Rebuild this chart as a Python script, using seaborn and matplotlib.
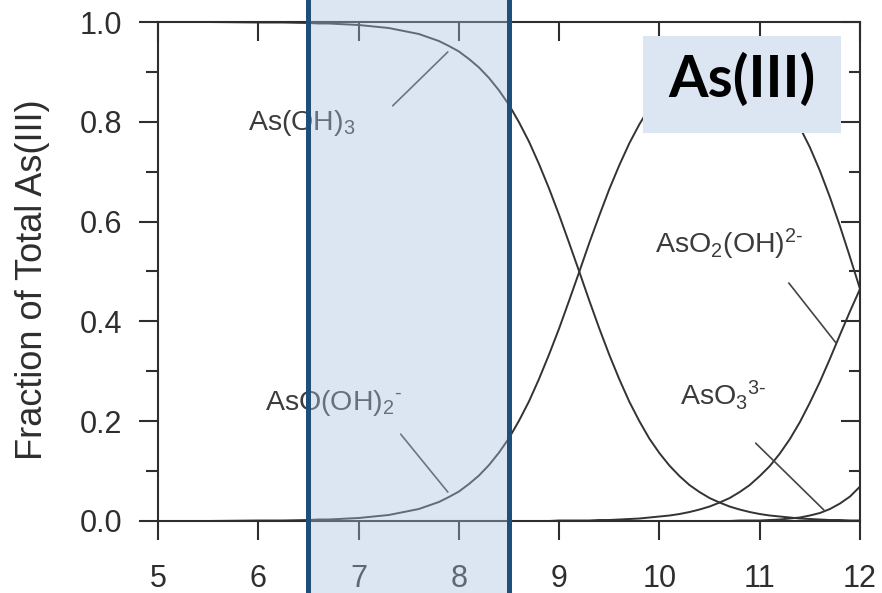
import matplotlib
matplotlib.use("Agg")
import matplotlib.pyplot as plt
import matplotlib.transforms as mtransforms
from matplotlib.patches import Rectangle
from matplotlib.lines import Line2D
from matplotlib.ticker import MultipleLocator
import seaborn as sns

# pH grid and species fractions of total As(III)
ph = [5.0, 5.5, 6.0, 6.25, 6.5, 6.6, 6.7, 6.8, 6.9, 7.0, 7.1, 7.2, 7.3, 7.4, 7.5,
      7.6, 7.7, 7.8, 7.9, 8.0, 8.1, 8.2, 8.3, 8.4, 8.5, 8.6, 8.7, 8.8, 8.9, 9.0,
      9.1, 9.2, 9.3, 9.4, 9.5, 9.6, 9.7, 9.8, 9.9, 10.0, 10.1, 10.2, 10.3, 10.4,
      10.5, 10.6, 10.7, 10.8, 10.9, 11.0, 11.1, 11.2, 11.3, 11.4, 11.5, 11.6,
      11.7, 11.8, 11.9, 12.0]
as_oh3 = [1.000, 1.000, 0.999, 0.999, 0.998, 0.997, 0.997, 0.996, 0.995, 0.994,
          0.992, 0.990, 0.988, 0.984, 0.980, 0.976, 0.969, 0.962, 0.952, 0.941,
          0.926, 0.909, 0.888, 0.863, 0.834, 0.799, 0.760, 0.715, 0.666, 0.613,
          0.557, 0.500, 0.442, 0.386, 0.333, 0.284, 0.239, 0.200, 0.165, 0.136,
          0.111, 0.090, 0.072, 0.058, 0.046, 0.037, 0.029, 0.023, 0.018, 0.014,
          0.011, 0.009, 0.007, 0.005, 0.004, 0.003, 0.002, 0.002, 0.001, 0.001]
aso_oh2 = [0.000, 0.000, 0.001, 0.001, 0.002, 0.003, 0.003, 0.004, 0.005, 0.006,
           0.008, 0.010, 0.012, 0.016, 0.020, 0.024, 0.031, 0.038, 0.048, 0.059,
           0.074, 0.091, 0.112, 0.137, 0.166, 0.201, 0.240, 0.285, 0.334, 0.386,
           0.442, 0.499, 0.557, 0.612, 0.665, 0.713, 0.757, 0.795, 0.828, 0.856,
           0.878, 0.896, 0.910, 0.919, 0.924, 0.926, 0.924, 0.918, 0.909, 0.895,
           0.877, 0.853, 0.824, 0.789, 0.749, 0.702, 0.649, 0.591, 0.529, 0.465]
aso2_oh = [0.000, 0.000, 0.000, 0.000, 0.000, 0.000, 0.000, 0.000, 0.000, 0.000,
           0.000, 0.000, 0.000, 0.000, 0.000, 0.000, 0.000, 0.000, 0.000, 0.000,
           0.000, 0.000, 0.000, 0.000, 0.000, 0.000, 0.000, 0.000, 0.000, 0.001,
           0.001, 0.001, 0.001, 0.002, 0.002, 0.003, 0.004, 0.005, 0.007, 0.009,
           0.011, 0.014, 0.018, 0.023, 0.029, 0.037, 0.046, 0.058, 0.072, 0.090,
           0.110, 0.135, 0.164, 0.198, 0.237, 0.279, 0.325, 0.373, 0.420, 0.465]
aso3 = [0.000, 0.000, 0.000, 0.000, 0.000, 0.000, 0.000, 0.000, 0.000, 0.000,
        0.000, 0.000, 0.000, 0.000, 0.000, 0.000, 0.000, 0.000, 0.000, 0.000,
        0.000, 0.000, 0.000, 0.000, 0.000, 0.000, 0.000, 0.000, 0.000, 0.000,
        0.000, 0.000, 0.000, 0.000, 0.000, 0.000, 0.000, 0.000, 0.000, 0.000,
        0.000, 0.000, 0.000, 0.000, 0.000, 0.000, 0.000, 0.001, 0.001, 0.001,
        0.002, 0.003, 0.005, 0.007, 0.011, 0.016, 0.024, 0.035, 0.049, 0.069]

x_ticks = [5, 6, 7, 8, 9, 10, 11, 12]
y_ticks = [0.0, 0.2, 0.4, 0.6, 0.8, 1.0]
band_range = (6.5, 8.5)

sns.set_style("ticks")
plt.rcParams["font.family"] = ["Liberation Sans", "DejaVu Sans"]
plt.rcParams["mathtext.fontset"] = "custom"
plt.rcParams["mathtext.rm"] = "Liberation Sans"
plt.rcParams["mathtext.it"] = "Liberation Sans:italic"
plt.rcParams["mathtext.bf"] = "Liberation Sans:bold"

ink = "#2e2e2e"
fig = plt.figure(figsize=(8.82, 5.93), dpi=100)
ax = fig.add_axes([158 / 882, 1 - 521 / 593, 702 / 882, 499 / 593])

for series in (as_oh3, aso_oh2, aso2_oh, aso3):
    sns.lineplot(x=ph, y=series, ax=ax, color="#333333", linewidth=1.4)

ax.set_xlim(5, 12)
ax.set_ylim(0, 1)
for sp in ax.spines.values():
    sp.set_visible(True)
    sp.set_linewidth(1.5)
    sp.set_color(ink)

ax.set_xticks(x_ticks)
ax.set_xticklabels([str(v) for v in x_ticks])
ax.set_yticks(y_ticks)
ax.set_yticklabels([f"{v:.1f}" for v in y_ticks])
ax.yaxis.set_minor_locator(MultipleLocator(0.1))
ax.tick_params(axis="x", which="major", direction="out", length=14, width=1.5,
               labelsize=22, pad=17, colors=ink)
ax.tick_params(axis="y", which="major", direction="out", length=14, width=1.5,
               labelsize=22, pad=12, colors=ink)
ax.tick_params(axis="y", which="minor", direction="out", length=8.5, width=1.5,
               colors=ink)

top = ax.secondary_xaxis("top")
top.set_xticks(x_ticks)
top.tick_params(direction="in", length=14, width=1.5, labeltop=False, colors=ink)
top.spines["top"].set_visible(False)
right = ax.secondary_yaxis("right")
right.set_yticks(y_ticks)
right.yaxis.set_minor_locator(MultipleLocator(0.1))
right.tick_params(which="major", direction="in", length=13.5, width=1.5,
                  labelright=False, colors=ink)
right.tick_params(which="minor", direction="in", length=8, width=1.5, colors=ink)
right.spines["right"].set_visible(False)

fig.text(33 / 882, 1 - 280 / 593, "Fraction of Total As(III)", rotation=90,
         ha="center", va="center", fontsize=26, color=ink)

# species labels with leader lines
lab_kw = dict(fontsize=20.5, color="#3c3c3c", ha="left", va="baseline")
ax.text(5.897, 0.784, r"As(OH)$_3$", **lab_kw)
ax.plot([7.34, 7.89], [0.832, 0.94], color="#444444", lw=1.2)
ax.text(6.067, 0.222, r"AsO(OH)$_2$$^{\text{-}}$", **lab_kw)
ax.plot([7.42, 7.89], [0.174, 0.058], color="#444444", lw=1.2)
ax.text(9.955, 0.537, r"AsO$_2$(OH)$^{\text{2-}}$", **lab_kw)
ax.plot([11.29, 11.76], [0.477, 0.357], color="#444444", lw=1.2)
ax.text(10.205, 0.2325, r"AsO$_3$$^{\text{3-}}$", **lab_kw)
ax.plot([10.96, 11.64], [0.156, 0.022], color="#444444", lw=1.2)

# title box
ax.add_patch(Rectangle((9.836, 0.778), 11.81 - 9.836, 0.972 - 0.778,
                       facecolor="#dce6f2", edgecolor="none", zorder=5))
ax.text(10.82, 0.8497, "As(III)", family="Lato", fontweight="bold",
        fontsize=41, color="black", ha="center", va="baseline", zorder=6)

# shaded pH band across the full figure height
blend = mtransforms.blended_transform_factory(ax.transData, fig.transFigure)
fig.add_artist(Rectangle((band_range[0], 0), band_range[1] - band_range[0], 1,
                         transform=blend, facecolor="#a8c1df", alpha=0.4,
                         edgecolor="none", zorder=3))
for xv in band_range:
    fig.add_artist(Line2D([xv, xv], [0, 1], transform=blend, color="#1f4e79",
                          linewidth=3.6, zorder=4))

fig.savefig("out.png", dpi=100)
